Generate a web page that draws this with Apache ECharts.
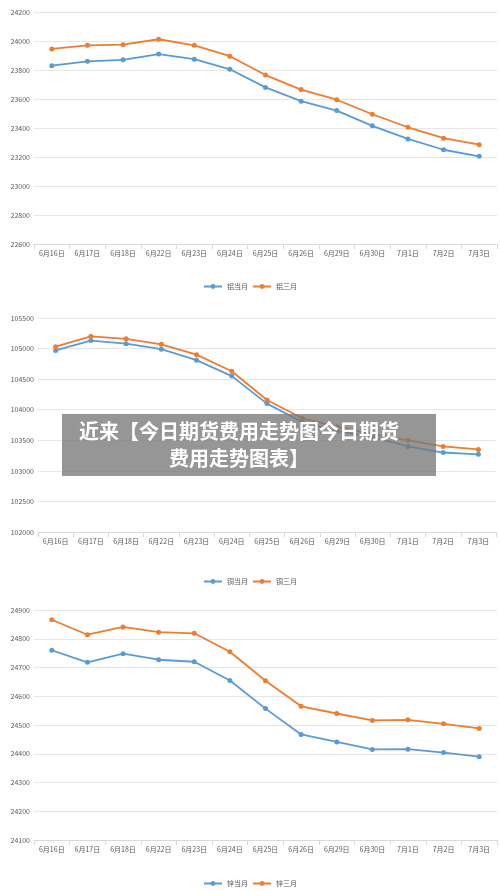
<!DOCTYPE html><html><head><meta charset="utf-8"><script src="https://cdn.jsdelivr.net/npm/echarts@6/dist/echarts.min.js"></script>
<style>html,body{margin:0;padding:0;background:#fff}#c{width:500px;height:892px}</style></head><body><div id="c"></div><script>
const categories=['6月16日','6月17日','6月18日','6月22日','6月23日','6月24日','6月25日','6月26日','6月29日','6月30日','7月1日','7月2日','7月3日'];
const alCur=[23830,23860,23870,23910,23875,23805,23680,23585,23520,23415,23325,23250,23205];
const al3=[23945,23970,23975,24012,23970,23895,23765,23665,23595,23495,23405,23330,23285];
const cuCur=[104970,105130,105080,104990,104810,104550,104100,103800,103650,103550,103400,103300,103270];
const cu3=[105030,105200,105160,105070,104900,104630,104160,103860,103720,103600,103500,103400,103350];
const znCur=[24760,24718,24748,24727,24720,24655,24557,24467,24441,24415,24416,24404,24390];
const zn3=[24866,24814,24841,24823,24819,24755,24654,24565,24540,24516,24518,24504,24488];
const names=[['铝当月','铝三月'],['铜当月','铜三月'],['锌当月','锌三月']];
const yRanges=[[22600,24200,200],[102000,105500,500],[24100,24900,100]];
const grids=[{left:34,right:3,top:12,height:232},{left:38,right:4,top:318,height:214},{left:34,right:3,top:610,height:230}];
const legendTops=[278,573,875];
const data=[[alCur,al3],[cuCur,cu3],[znCur,zn3]];
const blue='#5b9bd5',orange='#ed7d31';
const font='"Noto Sans CJK SC",sans-serif';
const opt={animation:false,grid:grids,xAxis:[],yAxis:[],series:[],legend:[],
graphic:[{type:'rect',shape:{x:62,y:414,width:374,height:62},style:{fill:'rgba(120,120,120,0.78)'},z:100},
{type:'text',x:239,y:445,style:{text:'近来【今日期货费用走势图今日期货\n费用走势图表】',fill:'#fff',font:'bold 20px "Noto Sans CJK SC"',align:'center',verticalAlign:'middle',lineHeight:27},z:101}]};
for(let i=0;i<3;i++){
opt.xAxis.push({type:'category',gridIndex:i,data:categories,boundaryGap:true,axisLine:{lineStyle:{color:'#d9d9d9'}},axisTick:{show:true,lineStyle:{color:'#d9d9d9'}},axisLabel:{color:'#595959',fontSize:7,fontFamily:font,interval:0,margin:6}});
opt.yAxis.push({type:'value',gridIndex:i,min:yRanges[i][0],max:yRanges[i][1],interval:yRanges[i][2],axisLine:{show:false},axisTick:{show:false},splitLine:{lineStyle:{color:'#e6e6e6'}},axisLabel:{color:'#595959',fontSize:7,fontFamily:font,margin:4,align:'right',formatter:v=>String(v)}});
opt.legend.push({top:legendTops[i],left:'center',data:names[i],itemWidth:18,itemHeight:6,itemGap:4,textStyle:{fontSize:7,color:'#595959',fontFamily:font}});
[blue,orange].forEach((c,j)=>opt.series.push({type:'line',name:names[i][j],xAxisIndex:i,yAxisIndex:i,data:data[i][j],symbol:'circle',symbolSize:5,color:c,lineStyle:{width:1.8,color:c},itemStyle:{color:c}}));
}
echarts.init(document.getElementById('c')).setOption(opt);
</script></body></html>
